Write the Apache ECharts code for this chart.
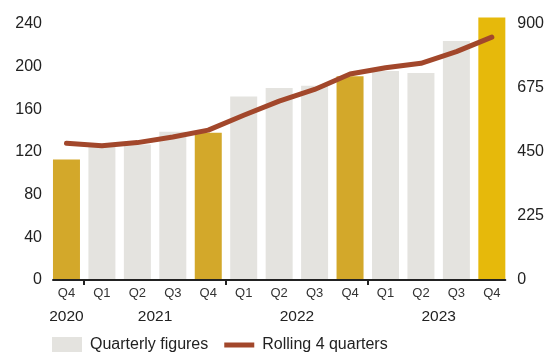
<!DOCTYPE html>
<html><head><meta charset="utf-8">
<script src="https://cdn.jsdelivr.net/npm/echarts@6/dist/echarts.min.js"></script>
<style>html,body{margin:0;padding:0;background:#fff}#c{width:547px;height:352px}</style>
</head><body><div id="c"></div>
<script>
const quarters = ['Q4','Q1','Q2','Q3','Q4','Q1','Q2','Q3','Q4','Q1','Q2','Q3','Q4'];
const quarterly = [113, 126, 127, 139, 138, 172, 180, 182, 191, 196, 194, 224, 246];
const rolling = [481, 472, 483, 503, 527, 579, 629, 670, 724, 746, 762, 803, 854];
const yearLabels = ['2020','2021','2022','2023'];
const yearLabelPos = [0, 2.5, 6.5, 10.5];
const yearTicks = [0.5, 4.5, 8.5];

const font = 'Liberation Sans, Arial, sans-serif';
const idx = quarters.map((q,i)=>i);
const barData = quarterly.map((v,i)=>({
  value: [i, v],
  itemStyle: {color: i===quarterly.length-1 ? '#e6b90b' : (quarters[i]==='Q4' ? '#d3a82a' : '#e4e3df')}
}));
const lineData = rolling.map((v,i)=>[i, v]);
const chart = echarts.init(document.getElementById('c'));
chart.setOption({
  animation:false,
  grid:{left:53,right:41,top:24,bottom:72},
  legend:{
    left:47, top:332, itemWidth:30, itemHeight:16, itemGap:16,
    textStyle:{fontFamily:font,fontSize:16,color:'#222',padding:[0,0,0,3]},
    data:[
      {name:'Quarterly figures',icon:'rect',itemStyle:{color:'#e4e3df'}},
      {name:'Rolling 4 quarters',icon:'path://M0,0 M0,5.5 L30,5.5 L30,10.5 L0,10.5 Z M30,16',itemStyle:{color:'#a2472b'}}
    ]
  },
  xAxis:[
    {type:'value',min:-0.38,max:12.38,position:'bottom',z:5,
     axisLine:{show:true,onZero:false,lineStyle:{color:'#222',width:2}},splitLine:{show:false},
     axisTick:{show:true,customValues:yearTicks,length:5,lineStyle:{color:'#222',width:2}},
     axisLabel:{customValues:idx,formatter:v=>quarters[Math.round(v)],fontFamily:font,fontSize:13,color:'#333',margin:7}},
    {type:'value',min:-0.38,max:12.38,position:'bottom',
     axisLine:{show:false},splitLine:{show:false},axisTick:{show:false},
     axisLabel:{customValues:yearLabelPos,formatter:v=>yearLabels[yearLabelPos.indexOf(v)]||'',fontFamily:font,fontSize:15.5,color:'#222',margin:29}}
  ],
  yAxis:[
    {type:'value',min:0,max:240,interval:40,splitLine:{show:false},axisLine:{show:false},axisTick:{show:false},
     axisLabel:{fontFamily:font,fontSize:16,color:'#222',margin:11}},
    {type:'value',min:0,max:900,interval:225,splitLine:{show:false},axisLine:{show:false},axisTick:{show:false},
     axisLabel:{fontFamily:font,fontSize:16,color:'#222',margin:12}}
  ],
  series:[
    {name:'Quarterly figures',type:'bar',xAxisIndex:0,yAxisIndex:0,barWidth:27,clip:false,data:barData,
     itemStyle:{color:'#e4e3df'}},
    {name:'Rolling 4 quarters',type:'line',xAxisIndex:0,yAxisIndex:1,data:lineData,symbol:'none',clip:false,
     lineStyle:{color:'#a2472b',width:5,cap:'round',join:'round'},itemStyle:{color:'#a2472b'}}
  ]
});
</script></body></html>
